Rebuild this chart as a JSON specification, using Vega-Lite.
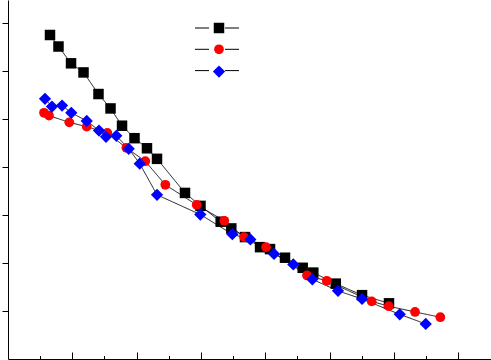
{
  "$schema": "https://vega.github.io/schema/vega-lite/v6.json",
  "width": 483,
  "height": 359,
  "autosize": {"type": "none"},
  "padding": {"left": 8, "top": 0, "right": 0, "bottom": 1},
  "background": "#ffffff",
  "config": {
    "view": {"stroke": null},
    "axis": {"grid": false, "labels": false, "title": null, "domainColor": "#000000", "tickColor": "#000000", "domainWidth": 1, "tickWidth": 1}
  },
  "data": {
    "values": [
      {"series": "S1", "x": 6.53, "y": 6.75}, {"series": "S1", "x": 7.85, "y": 6.51}, {"series": "S1", "x": 9.80, "y": 6.16},
      {"series": "S1", "x": 11.74, "y": 5.97}, {"series": "S1", "x": 14.07, "y": 5.52}, {"series": "S1", "x": 15.94, "y": 5.22},
      {"series": "S1", "x": 17.73, "y": 4.86}, {"series": "S1", "x": 19.67, "y": 4.60}, {"series": "S1", "x": 21.61, "y": 4.39},
      {"series": "S1", "x": 23.17, "y": 4.17}, {"series": "S1", "x": 27.52, "y": 3.46}, {"series": "S1", "x": 29.93, "y": 3.19},
      {"series": "S1", "x": 33.07, "y": 2.86}, {"series": "S1", "x": 34.72, "y": 2.72}, {"series": "S1", "x": 36.85, "y": 2.54},
      {"series": "S1", "x": 39.19, "y": 2.33}, {"series": "S1", "x": 40.74, "y": 2.29}, {"series": "S1", "x": 43.07, "y": 2.11},
      {"series": "S1", "x": 45.82, "y": 1.90}, {"series": "S1", "x": 47.47, "y": 1.80}, {"series": "S1", "x": 50.96, "y": 1.57},
      {"series": "S1", "x": 55.05, "y": 1.33}, {"series": "S1", "x": 59.24, "y": 1.16},
      {"series": "S2", "x": 5.60, "y": 5.13}, {"series": "S2", "x": 6.38, "y": 5.07}, {"series": "S2", "x": 9.53, "y": 4.93},
      {"series": "S2", "x": 12.24, "y": 4.84}, {"series": "S2", "x": 15.44, "y": 4.71}, {"series": "S2", "x": 18.40, "y": 4.40},
      {"series": "S2", "x": 21.35, "y": 4.12}, {"series": "S2", "x": 24.46, "y": 3.63}, {"series": "S2", "x": 29.34, "y": 3.21},
      {"series": "S2", "x": 33.63, "y": 2.88}, {"series": "S2", "x": 36.70, "y": 2.54}, {"series": "S2", "x": 40.12, "y": 2.33},
      {"series": "S2", "x": 46.49, "y": 1.74}, {"series": "S2", "x": 49.56, "y": 1.63}, {"series": "S2", "x": 56.55, "y": 1.20},
      {"series": "S2", "x": 59.20, "y": 1.10}, {"series": "S2", "x": 63.29, "y": 0.98}, {"series": "S2", "x": 67.22, "y": 0.87},
      {"series": "S3", "x": 5.75, "y": 5.42}, {"series": "S3", "x": 6.84, "y": 5.26}, {"series": "S3", "x": 8.40, "y": 5.28},
      {"series": "S3", "x": 9.84, "y": 5.13}, {"series": "S3", "x": 12.24, "y": 4.96}, {"series": "S3", "x": 14.15, "y": 4.76},
      {"series": "S3", "x": 15.24, "y": 4.63}, {"series": "S3", "x": 16.84, "y": 4.65}, {"series": "S3", "x": 18.77, "y": 4.38},
      {"series": "S3", "x": 20.48, "y": 4.07}, {"series": "S3", "x": 23.17, "y": 3.42}, {"series": "S3", "x": 29.90, "y": 3.01},
      {"series": "S3", "x": 34.88, "y": 2.60}, {"series": "S3", "x": 37.68, "y": 2.49}, {"series": "S3", "x": 41.36, "y": 2.19},
      {"series": "S3", "x": 44.36, "y": 1.97}, {"series": "S3", "x": 47.32, "y": 1.66}, {"series": "S3", "x": 51.31, "y": 1.42},
      {"series": "S3", "x": 55.05, "y": 1.25}, {"series": "S3", "x": 60.91, "y": 0.93}, {"series": "S3", "x": 64.95, "y": 0.73}
    ]
  },
  "encoding": {
    "x": {
      "field": "x", "type": "quantitative",
      "scale": {"domain": [0, 75.1], "nice": false, "zero": false},
      "axis": {
        "values": [5, 10, 15, 20, 25, 30, 35, 40, 45, 50, 55, 60, 65, 70],
        "tickSize": {"condition": {"test": "datum.value % 10 === 0", "value": -7}, "value": -3.5}
      }
    },
    "y": {
      "field": "y", "type": "quantitative",
      "scale": {"domain": [0, 7.479], "nice": false, "zero": false},
      "axis": {"values": [1, 2, 3, 4, 5, 6, 7], "tickSize": 6}
    }
  },
  "layer": [
    {
      "mark": {"type": "line", "color": "#000000", "strokeWidth": 0.9},
      "encoding": {
        "strokeDash": {
          "field": "series", "type": "nominal",
          "scale": {"domain": ["S1", "S2", "S3"], "range": [[1, 0], [1, 0], [1, 0]]},
          "legend": {
            "orient": "none", "legendX": 203, "legendY": 22, "title": null, "labelExpr": "''",
            "symbolType": "M-22,0H-8M8,0H22", "symbolSize": 4, "symbolStrokeColor": "#000000", "symbolStrokeWidth": 1,
            "padding": 0, "rowPadding": 9.3, "labelFontSize": 12, "labelLimit": 1
          }
        }
      }
    },
    {
      "mark": {"type": "point", "filled": true, "opacity": 1},
      "encoding": {
        "color": {"field": "series", "type": "nominal", "scale": {"range": ["#000000", "#ff0000", "#0000ff"]},
          "legend": {
            "orient": "none", "legendX": 204, "legendY": 22, "title": null, "labelExpr": "''",
            "padding": 0, "rowPadding": 9.3, "labelFontSize": 12, "labelLimit": 1
          }},
        "shape": {"field": "series", "type": "nominal", "scale": {"range": ["square", "circle", "diamond"]}},
        "size": {"field": "series", "type": "nominal", "scale": {"type": "ordinal", "range": [110, 95, 150]}}
      }
    }
  ]
}
